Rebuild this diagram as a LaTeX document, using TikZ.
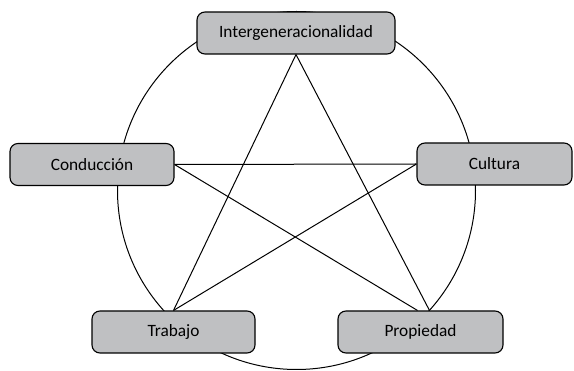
\documentclass[tikz,border=0pt]{standalone}
\usepackage{fontspec}
\setmainfont{Carlito}
\definecolor{boxgray}{RGB}{191,192,194}
\begin{document}
\begin{tikzpicture}[x=1pt,y=-1pt]
    % Define styles for nodes and edges
    \tikzstyle{concepto}=[rectangle,rounded corners=8pt,draw,line width=1.1pt,fill=boxgray,
        minimum height=42pt,inner sep=0pt,font=\fontsize{17.3}{20}\selectfont]
    \tikzstyle{enlace}=[line width=1pt]
    \useasboundingbox (0,0) rectangle (574,371);

    % Circle behind the five concepts
    \draw[enlace] (296.5,190.5) circle (179);

    % Concept nodes
    \node[concepto,minimum width=198pt] (inter) at (296,33) {Intergeneracionalidad};
    \node[concepto,minimum width=164pt] (conduccion) at (92,164.5) {Conducción};
    \node[concepto,minimum width=155pt] (cultura) at (494.5,164) {Cultura};
    \node[concepto,minimum width=163pt] (trabajo) at (173.5,332) {Trabajo};
    \node[concepto,minimum width=165pt] (propiedad) at (420.5,332) {Propiedad};

    % Star connecting the concepts
    \draw[enlace] (inter.south) -- (trabajo.north);
    \draw[enlace] (inter.south) -- ([xshift=9pt]propiedad.north);
    \draw[enlace] (conduccion.east) -- (cultura.west);
    \draw[enlace] (conduccion.east) -- ([xshift=-3pt]propiedad.north);
    \draw[enlace] (cultura.west) -- (trabajo.north);
\end{tikzpicture}
\end{document}
